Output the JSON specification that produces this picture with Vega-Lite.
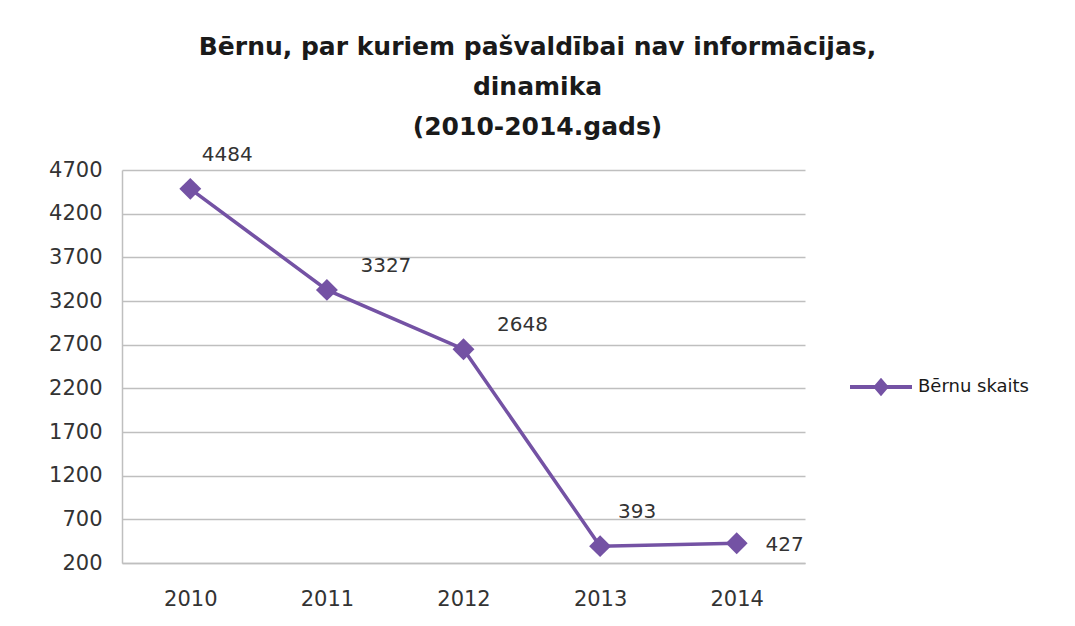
{
  "$schema": "https://vega.github.io/schema/vega-lite/v6.json",
  "autosize": {"type": "none"},
  "width": 683,
  "height": 393,
  "padding": {"left": 122, "top": 170, "right": 270, "bottom": 63},
  "background": "white",
  "title": {
    "text": ["Bērnu, par kuriem pašvaldībai  nav informācijas,", "dinamika", "(2010-2014.gads)"],
    "font": "DejaVu Sans",
    "fontSize": 25,
    "fontWeight": "bold",
    "color": "#1a1a1a",
    "lineHeight": 40,
    "anchor": "middle",
    "frame": "group",
    "dx": 74,
    "offset": 5
  },
  "data": {
    "values": [
      {"year": "2010", "value": 4484, "series": "Bērnu skaits"},
      {"year": "2011", "value": 3327, "series": "Bērnu skaits"},
      {"year": "2012", "value": 2648, "series": "Bērnu skaits"},
      {"year": "2013", "value": 393, "series": "Bērnu skaits"},
      {"year": "2014", "value": 427, "series": "Bērnu skaits"}
    ]
  },
  "encoding": {
    "x": {
      "field": "year",
      "type": "ordinal",
      "scale": {"type": "point", "padding": 0.5},
      "axis": {
        "title": null,
        "labelAngle": 0,
        "labelFont": "DejaVu Sans",
        "labelFontSize": 21,
        "labelColor": "#333333",
        "labelPadding": 25,
        "ticks": false,
        "domainColor": "#bfbfbf",
        "domainWidth": 1.5,
        "grid": false
      }
    },
    "y": {
      "field": "value",
      "type": "quantitative",
      "scale": {"domain": [200, 4700], "nice": false, "zero": false},
      "axis": {
        "title": null,
        "format": "d",
        "values": [200, 700, 1200, 1700, 2200, 2700, 3200, 3700, 4200, 4700],
        "labelFont": "DejaVu Sans",
        "labelFontSize": 21,
        "labelColor": "#333333",
        "labelPadding": 20,
        "ticks": false,
        "domainColor": "#bfbfbf",
        "domainWidth": 1.5,
        "gridColor": "#bfbfbf",
        "gridWidth": 1.5
      }
    }
  },
  "layer": [
    {
      "mark": {"type": "line", "strokeWidth": 3.5},
      "encoding": {
        "color": {
          "field": "series",
          "type": "nominal",
          "scale": {"range": ["#7452a4"]},
          "legend": {
            "title": null,
            "orient": "none",
            "legendX": 726,
            "legendY": 184,
            "symbolType": "M-1,0H1M-0.17,0L0,-0.2L0.17,0L0,0.2Z",
            "symbolSize": 3844,
            "symbolStrokeWidth": 4,
            "symbolFillColor": "#7452a4",
            "labelFont": "DejaVu Sans",
            "labelFontSize": 18,
            "labelColor": "#1a1a1a",
            "labelOffset": 4
          }
        }
      }
    },
    {
      "mark": {"type": "point", "shape": "diamond", "filled": true, "size": 480, "color": "#7452a4", "opacity": 1}
    },
    {
      "transform": [{"filter": "datum.year == '2010' || datum.year == '2013'"}],
      "mark": {"type": "text", "font": "DejaVu Sans", "fontSize": 20, "color": "#333333", "dx": 37, "dy": -34},
      "encoding": {"text": {"field": "value", "type": "quantitative"}}
    },
    {
      "transform": [{"filter": "datum.year == '2011' || datum.year == '2012'"}],
      "mark": {"type": "text", "font": "DejaVu Sans", "fontSize": 20, "color": "#333333", "dx": 59, "dy": -24},
      "encoding": {"text": {"field": "value", "type": "quantitative"}}
    },
    {
      "transform": [{"filter": "datum.year == '2014'"}],
      "mark": {"type": "text", "font": "DejaVu Sans", "fontSize": 20, "color": "#333333", "dx": 48, "dy": 2},
      "encoding": {"text": {"field": "value", "type": "quantitative"}}
    }
  ],
  "config": {"view": {"stroke": null}}
}
